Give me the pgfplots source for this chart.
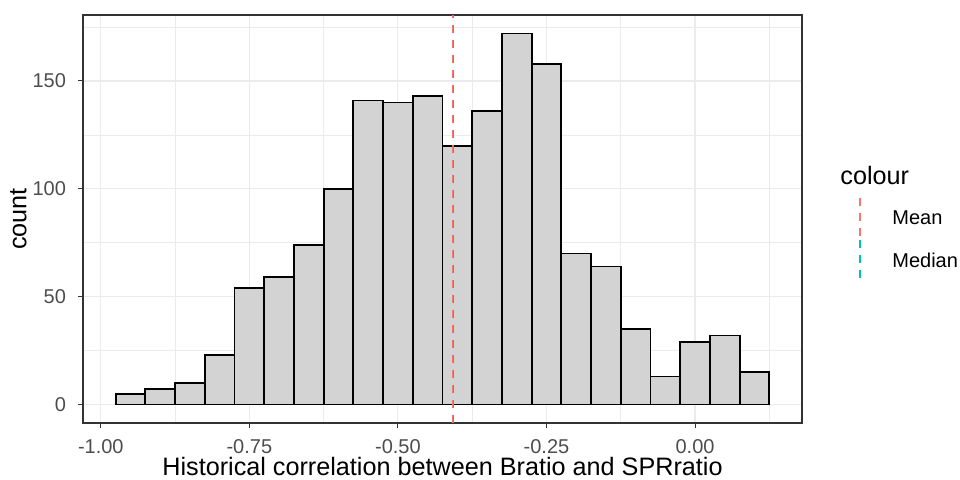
\documentclass[border=0pt]{standalone}
\usepackage{fontspec}
\setmainfont{Liberation Sans}
\usepackage{pgfplots}
\pgfplotsset{compat=1.18}
\definecolor{gridc}{HTML}{EBEBEB}
\definecolor{tickc}{HTML}{4D4D4D}
\definecolor{borderc}{HTML}{333333}
\definecolor{barfill}{HTML}{D3D3D3}
\definecolor{meanc}{HTML}{F8766D}
\definecolor{medc}{HTML}{00BFC4}
\begin{document}
\begin{tikzpicture}
\path[use as bounding box] (-41.5pt,-28pt) rectangle (438.5pt,211.5pt);
\begin{axis}[
  at={(0,0)}, anchor=south west,
  scale only axis, width=359.5pt, height=204pt,
  xmin=-1.030, xmax=0.180, ymin=-8.6, ymax=180.6,
  axis line style={borderc, line width=0.6pt},
  tick align=outside, tick pos=left,
  major tick length=2.5pt, minor tick length=0pt,
  tick style={borderc, line width=0.5pt},
  xtick={-1,-0.75,-0.5,-0.25,0},
  xticklabels={-1.00,-0.75,-0.50,-0.25,0.00},
  minor xtick={-0.875,-0.625,-0.375,-0.125,0.125},
  ytick={0,50,100,150},
  yticklabels={0,50,100,150},
  minor ytick={25,75,125,175},
  /pgf/number format/assume math mode=true,
  grid=both,
  major grid style={gridc, line width=0.55pt},
  minor grid style={gridc, line width=0.3pt},
  tick label style={font=\fontsize{10}{12}\selectfont, text=tickc},
  label style={font=\fontsize{12.6}{15}\selectfont, text=black},
  xlabel={Historical correlation between Bratio and SPRratio},
  ylabel={count},
  xlabel style={at={(axis description cs:0.5,-0.1287)}, anchor=base, inner sep=0pt},
  ylabel style={at={(axis description cs:-0.0779,0.5)}, anchor=south, inner sep=0pt},
  xticklabel style={anchor=center, inner sep=0pt, yshift=-9.5pt},
  yticklabel style={xshift=-2.5pt},
]
\addplot[ybar interval, fill=barfill, draw=black, line width=0.9pt] coordinates {
(-0.975,5) (-0.925,7) (-0.875,10) (-0.825,23) (-0.775,54) (-0.725,59)
(-0.675,74) (-0.625,100) (-0.575,141) (-0.525,140) (-0.475,143) (-0.425,120)
(-0.375,136) (-0.325,172) (-0.275,158) (-0.225,70) (-0.175,64) (-0.125,35)
(-0.075,13) (-0.025,29) (0.025,32) (0.075,15) (0.125,15)
};
\addplot[meanc, line width=0.6pt, dash pattern=on 4pt off 3.5pt] coordinates {(-0.4080,-8.6) (-0.4080,180.6)};
\addplot[medc, line width=0.55pt, dash pattern=on 4pt off 3.5pt] coordinates {(-0.4064,-8.6) (-0.4064,180.6)};
\end{axis}
\node[anchor=west, inner sep=0pt, font=\fontsize{12.6}{15}\selectfont] at (378.5pt,124pt) {colour};
\draw[meanc, line width=0.6pt, dash pattern=on 4pt off 3.5pt] (388.5pt,112.5pt) -- (388.5pt,92.5pt);
\draw[medc, line width=0.6pt, dash pattern=on 4pt off 3.5pt] (388.5pt,91.5pt) -- (388.5pt,71.5pt);
\node[anchor=west, inner sep=0pt, font=\fontsize{10}{12}\selectfont] at (404.5pt,102.5pt) {Mean};
\node[anchor=west, inner sep=0pt, font=\fontsize{10}{12}\selectfont] at (404.5pt,81.5pt) {Median};
\end{tikzpicture}
\end{document}
